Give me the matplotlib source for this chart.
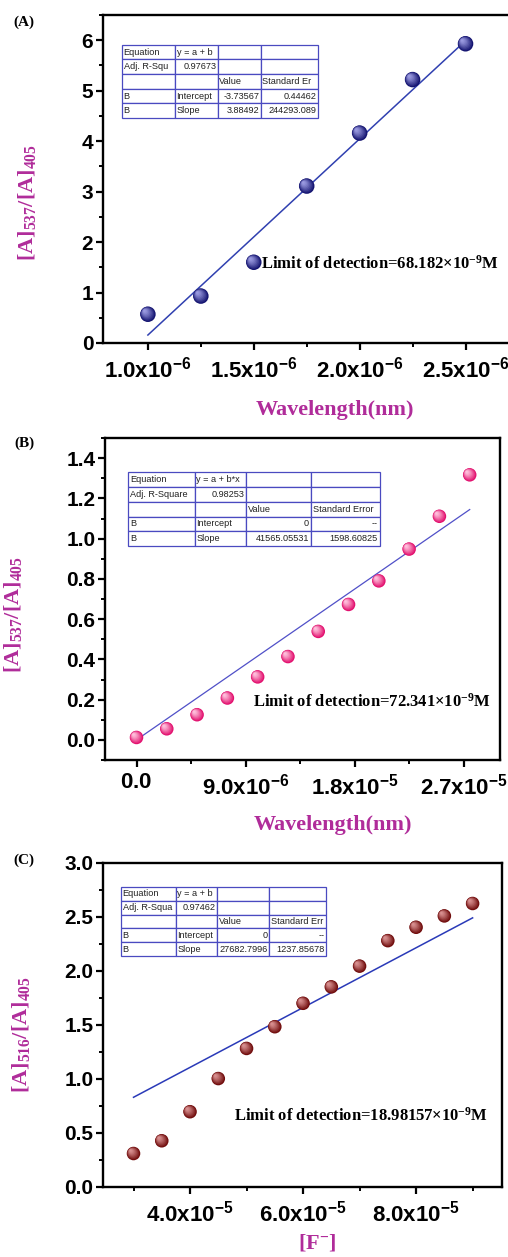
import numpy as np
import matplotlib
matplotlib.use('Agg')
import matplotlib.pyplot as plt
import matplotlib.colors as mcolors
from matplotlib.transforms import offset_copy
from matplotlib.ticker import FixedLocator, MultipleLocator

plt.rcParams['mathtext.fontset'] = 'custom'
plt.rcParams['mathtext.rm'] = 'Liberation Serif:bold'
plt.rcParams['mathtext.it'] = 'Liberation Serif:bold'
plt.rcParams['mathtext.bf'] = 'Liberation Serif:bold'
plt.rcParams['mathtext.sf'] = 'Liberation Sans:bold'

# ---- data ----
xa = [1.0e-6, 1.25e-6, 1.5e-6, 1.75e-6, 2.0e-6, 2.25e-6, 2.5e-6]
ya = [0.57, 0.93, 1.60, 3.11, 4.16, 5.22, 5.93]

xb = [0.0, 2.5e-6, 5.0e-6, 7.5e-6, 1.0e-5, 1.25e-5, 1.5e-5, 1.75e-5,
      2.0e-5, 2.25e-5, 2.5e-5, 2.75e-5]
yb = [0.012, 0.055, 0.125, 0.208, 0.313, 0.414, 0.539, 0.673, 0.790,
      0.948, 1.111, 1.317]

xc = [3.0e-5, 3.5e-5, 4.0e-5, 4.5e-5, 5.0e-5, 5.5e-5, 6.0e-5, 6.5e-5,
      7.0e-5, 7.5e-5, 8.0e-5, 8.5e-5, 9.0e-5]
yc = [0.31, 0.428, 0.697, 1.004, 1.283, 1.484, 1.701, 1.853, 2.045,
      2.281, 2.405, 2.51, 2.625]

xticks_a = [1.0e-6, 1.5e-6, 2.0e-6, 2.5e-6]
xtlab_a = ['1.0x10^{-6}', '1.5x10^{-6}', '2.0x10^{-6}', '2.5x10^{-6}']
xticks_b = [0.0, 9.0e-6, 1.8e-5, 2.7e-5]
xtlab_b = ['0.0', '9.0x10^{-6}', '1.8x10^{-5}', '2.7x10^{-5}']
xticks_c = [4.0e-5, 6.0e-5, 8.0e-5]
xtlab_c = ['4.0x10^{-5}', '6.0x10^{-5}', '8.0x10^{-5}']

table_a = [['Equation', 'y = a + b', '', ''],
           ['Adj. R-Squ', '0.97673', '', ''],
           ['', '', 'Value', 'Standard Er'],
           ['B', 'Intercept', '-3.73567', '0.44462'],
           ['B', 'Slope', '3.88492', '244293.089']]
table_b = [['Equation', 'y = a + b*x', '', ''],
           ['Adj. R-Square', '0.98253', '', ''],
           ['', '', 'Value', 'Standard Error'],
           ['B', 'Intercept', '0', '--'],
           ['B', 'Slope', '41565.05531', '1598.60825']]
table_c = [['Equation', 'y = a + b', '', ''],
           ['Adj. R-Squa', '0.97462', '', ''],
           ['', '', 'Value', 'Standard Err'],
           ['B', 'Intercept', '0', '--'],
           ['B', 'Slope', '27682.7996', '1237.85678']]

lod_a = r'Limit of detection=68.182$\times$10$^{-9}$M'
lod_b = r'Limit of detection=72.341$\times$10$^{-9}$M'
lod_c = r'Limit of detection=18.98157$\times$10$^{-9}$M'

W, H = 508, 1257
fig = plt.figure(figsize=(W / 100, H / 100), dpi=100)
label_col = '#b02c9a'
tcol = '#4a4ac0'


def px_axes(l, t, r, b):
    return fig.add_axes([l / W, 1 - b / H, (r - l) / W, (b - t) / H])


def balls(ax, x, y, base, hi, s):
    base = np.array(mcolors.to_rgb(base))
    hi = np.array(mcolors.to_rgb(hi))
    n = 9
    d = np.sqrt(s)
    for k in range(n):
        f = k / (n - 1)
        size = (d * (1 - 0.85 * f)) ** 2
        off = 0.22 * d * f
        col = base * (1 - f) ** 1.3 + hi * (1 - (1 - f) ** 1.3)
        tr = offset_copy(ax.transData, fig=fig, x=-off, y=off, units='points')
        ax.scatter(x, y, s=size, color=col, transform=tr, zorder=3 + k * 0.01,
                   edgecolors='none')


def style(ax, xticks, xtlabels):
    for sp in ax.spines.values():
        sp.set_linewidth(1.7)
    ax.xaxis.set_major_locator(FixedLocator(xticks))
    ax.set_xticklabels([r'$\mathsf{' + t + '}$' for t in xtlabels])
    ax.tick_params(which='major', direction='out', length=5, width=1.6,
                   top=False, right=False)
    ax.tick_params(which='minor', direction='out', length=3, width=1.4,
                   top=False, right=False)
    ax.tick_params(axis='x', labelsize=16, pad=4)
    ax.tick_params(axis='y', labelsize=15, pad=2)
    for lab in ax.get_yticklabels():
        lab.set_fontfamily('Liberation Sans')
        lab.set_fontweight('bold')


def draw_table(ax, rows, bbox, widths, ralign):
    tb = ax.table(cellText=rows, bbox=bbox, colWidths=widths, zorder=5)
    tb.auto_set_font_size(False)
    for (r, c), cell in tb.get_celld().items():
        cell.set_edgecolor(tcol)
        cell.set_linewidth(0.9)
        cell.PAD = 0.03
        txt = cell.get_text()
        txt.set_fontsize(6.6)
        txt.set_fontfamily('Liberation Sans')
        txt.set_color('#222222')
        cell.set_text_props(ha='right' if (r, c) in ralign else 'left')
    return tb


ralign = {(1, 1), (3, 2), (3, 3), (4, 2), (4, 3)}

# ---- panel A ----
ax = px_axes(103, 15, 510, 343)
ax.set_xlim(0.788e-6, 2.71e-6)
ax.set_ylim(0, 6.5)
balls(ax, xa, ya, '#141470', '#9a9ae0', 125)
pa = np.polyfit(xa, ya, 1)
ax.plot([xa[0], xa[-1]], np.polyval(pa, [xa[0], xa[-1]]), color='#3040b0',
        lw=1.1, zorder=2)
ax.xaxis.set_minor_locator(FixedLocator([1.25e-6, 1.75e-6, 2.25e-6]))
ax.yaxis.set_major_locator(MultipleLocator(1))
ax.yaxis.set_minor_locator(MultipleLocator(0.5))
style(ax, xticks_a, xtlab_a)
draw_table(ax, table_a, [0.047, 0.686, 0.481, 0.223], [53, 42, 43, 57], ralign)
ax.text(1.535e-6, 1.58, lod_a, fontsize=12, fontfamily='Liberation Serif',
        fontweight='bold', va='center', ha='left', zorder=6)
fig.text(335 / W, 1 - 410 / H, 'Wavelength(nm)', color=label_col,
         fontsize=16, fontfamily='Liberation Serif', fontweight='bold',
         ha='center', va='center')
fig.text(24 / W, 1 - 22 / H, '(A)', fontsize=11, fontfamily='Liberation Serif',
         fontweight='bold', ha='center', va='center')
fig.text(27 / W, 1 - 203 / H, r'[A]$_{537}$/[A]$_{405}$', rotation=90,
         color=label_col, fontsize=16, fontfamily='Liberation Serif',
         fontweight='bold', ha='center', va='center')

# ---- panel B ----
ax = px_axes(105, 438, 500, 760)
ax.set_xlim(-2.6e-6, 3.0e-5)
ax.set_ylim(-0.1, 1.5)
balls(ax, xb, yb, '#e2106e', '#ffc0dc', 95)
kb = np.dot(xb, yb) / np.dot(xb, xb)
ax.plot([xb[0], xb[-1]], [kb * xb[0], kb * xb[-1]], color='#5050c8',
        lw=0.9, zorder=2)
ax.xaxis.set_minor_locator(FixedLocator([4.5e-6, 1.35e-5, 2.25e-5]))
ax.yaxis.set_major_locator(MultipleLocator(0.2))
ax.yaxis.set_minor_locator(MultipleLocator(0.1))
style(ax, xticks_b, xtlab_b)
draw_table(ax, table_b, [0.058, 0.664, 0.638, 0.23], [67, 51, 65, 69], ralign)
ax.text(9.6e-6, 0.188, lod_b, fontsize=12, fontfamily='Liberation Serif',
        fontweight='bold', va='center', ha='left', zorder=6)
fig.text(333 / W, 1 - 825 / H, 'Wavelength(nm)', color=label_col,
         fontsize=16, fontfamily='Liberation Serif', fontweight='bold',
         ha='center', va='center')
fig.text(24 / W, 1 - 443 / H, '(B)', fontsize=11, fontfamily='Liberation Serif',
         fontweight='bold', ha='center', va='center')
fig.text(13 / W, 1 - 615 / H, r'[A]$_{537}$/[A]$_{405}$', rotation=90,
         color=label_col, fontsize=16, fontfamily='Liberation Serif',
         fontweight='bold', ha='center', va='center')

# ---- panel C ----
ax = px_axes(103, 863, 502, 1187)
ax.set_xlim(2.46e-5, 9.52e-5)
ax.set_ylim(0, 3.0)
balls(ax, xc, yc, '#700c0c', '#d89090', 95)
kc = np.dot(xc, yc) / np.dot(xc, xc)
ax.plot([xc[0], xc[-1]], [kc * xc[0], kc * xc[-1]], color='#2a3ab8',
        lw=1.1, zorder=2)
ax.xaxis.set_minor_locator(FixedLocator([3e-5, 5e-5, 7e-5, 9e-5]))
ax.yaxis.set_major_locator(MultipleLocator(0.5))
ax.yaxis.set_minor_locator(MultipleLocator(0.25))
style(ax, xticks_c, xtlab_c)
draw_table(ax, table_c, [0.045, 0.713, 0.514, 0.213], [55, 41, 52, 57], ralign)
ax.text(4.78e-5, 0.66, lod_c, fontsize=12, fontfamily='Liberation Serif',
        fontweight='bold', va='center', ha='left', zorder=6)
fig.text(317 / W, 1 - 1243 / H, r'[F$^{\mathbf{-}}$]', color=label_col,
         fontsize=16, fontfamily='Liberation Serif', fontweight='bold',
         ha='center', va='center')
fig.text(24 / W, 1 - 860 / H, '(C)', fontsize=11, fontfamily='Liberation Serif',
         fontweight='bold', ha='center', va='center')
fig.text(21 / W, 1 - 1035 / H, r'[A]$_{516}$/[A]$_{405}$', rotation=90,
         color=label_col, fontsize=16, fontfamily='Liberation Serif',
         fontweight='bold', ha='center', va='center')

fig.savefig('out.png', dpi=100)
